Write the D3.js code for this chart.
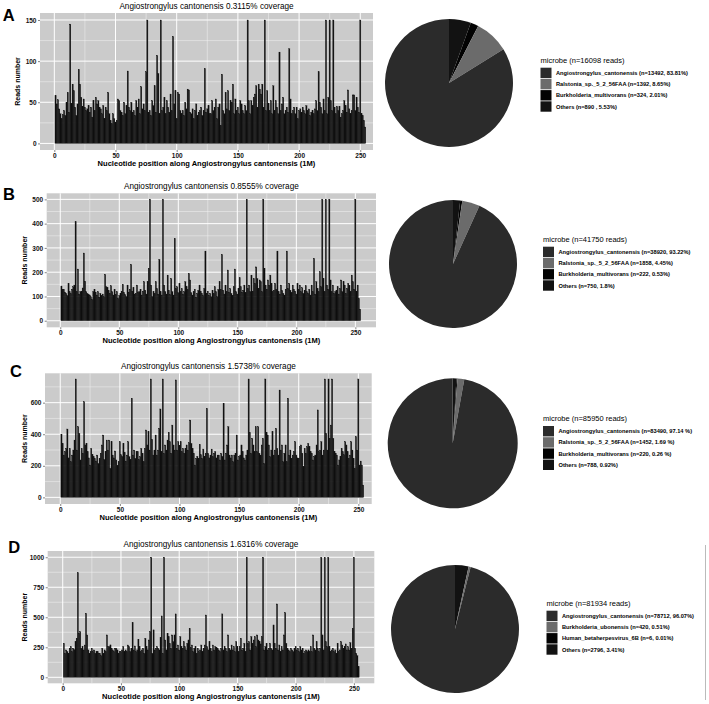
<!DOCTYPE html>
<html>
<head>
<meta charset="utf-8">
<script src="https://cdn.jsdelivr.net/npm/d3@7"></script>
<style>
  body { margin: 0; background: #fff; }
  svg { display: block; font-family: "Liberation Sans", Arial, sans-serif; }
</style>
</head>
<body>
<div id="chart"></div>
<script>
// reads per position (1..254)
const readsA = [
  58,48,53,42,36,30,35,40,34,50, 62,38,145,49,72,64,44,34,48,90,
  72,56,45,54,44,40,42,46,38,44, 32,52,40,56,48,52,44,42,36,46,
  30,44,40,62,36,28,24,36,30,26, 28,54,52,40,38,34,50,36,46,88,
  44,40,50,38,40,34,52,44,54,36, 69,42,48,40,87,150,38,40,34,52,
  46,70,38,107,85,36,150,40,44,56, 36,52,44,38,60,40,130,48,64,30,
  62,60,40,36,40,34,50,42,66,65, 38,36,42,30,40,48,34,38,40,44,
  34,40,91,38,42,46,36,36,52,40, 44,54,30,44,48,22,84,40,36,62,
  42,64,40,52,50,72,36,54,40,44, 36,52,48,40,36,46,40,150,52,36,
  52,46,56,60,70,44,72,66,60,72, 44,150,40,64,49,40,52,36,70,40,
  52,44,36,111,40,48,56,36,40,44, 38,115,54,36,40,44,36,44,30,40,
  42,38,44,40,36,46,40,42,34,38, 40,36,42,52,40,87,50,44,36,54,
  40,150,36,56,150,52,40,150,44,36, 45,40,45,32,36,40,52,46,38,65,
  42,36,40,59,59,40,56,44,38,150, 36,34,28,20
];
const readsB = [
  143,130,130,118,113,104,154,120,112,130, 140,147,408,120,213,110,120,122,135,279,
  163,120,113,108,106,99,88,120,130,118, 106,120,98,113,103,110,99,191,140,136,
  125,113,144,120,106,130,108,120,92,104, 113,122,150,117,108,100,147,118,130,232,
  122,136,110,113,147,118,120,130,106,122, 161,126,110,161,216,501,147,100,120,112,
  161,133,110,253,120,106,501,147,120,110, 188,126,108,174,120,106,339,133,140,115,
  154,120,133,110,120,161,140,128,195,168, 115,106,120,130,98,113,125,147,122,113,
  104,133,287,113,122,105,113,99,126,112, 140,120,100,129,161,130,273,126,110,147,
  120,209,118,133,113,105,140,213,120,110, 133,177,140,118,126,147,115,501,133,147,
  120,188,122,174,154,222,174,133,168,161, 120,501,216,147,130,168,147,188,154,120,
  126,154,130,287,120,110,147,125,113,106, 130,287,133,154,126,115,147,130,122,110,
  154,130,147,120,136,113,126,144,120,113, 130,106,147,120,257,110,161,133,120,202,
  140,501,174,120,501,147,130,501,168,120, 147,113,120,126,140,110,133,168,120,161,
  147,113,133,154,144,120,188,161,130,501, 122,147,92,48
];
const readsC = [
  400,342,268,290,310,433,250,310,226,268, 300,363,750,300,448,406,237,310,280,606,
  332,342,290,250,205,310,270,258,247,230, 268,215,247,280,332,395,240,290,363,300,
  363,184,353,268,250,294,237,200,226,353, 270,258,342,285,230,268,353,258,240,628,
  268,300,247,290,290,240,258,310,280,226, 310,427,332,416,300,750,368,268,300,395,
  268,300,437,560,290,750,279,332,300,363, 412,353,280,458,332,300,744,300,353,330,
  353,290,310,280,310,332,300,346,490,342, 310,280,205,247,260,247,336,270,247,306,
  260,279,564,279,250,268,306,258,280,290, 250,268,268,237,279,260,596,237,280,332,
  448,268,250,268,226,268,280,395,237,260, 268,332,290,250,237,268,300,750,412,279,
  374,332,290,448,290,448,280,268,332,374, 215,750,412,395,332,258,300,416,268,300,
  437,310,268,680,300,332,226,280,332,226, 628,268,300,247,268,290,353,268,250,247,
  321,332,280,194,310,280,321,342,321,290, 279,237,260,268,332,554,290,300,353,268,
  300,750,406,300,750,374,458,750,374,290, 280,268,205,237,260,310,290,270,353,332,
  290,247,268,353,300,247,184,385,300,750, 205,230,205,78
];
const readsD = [
  283,200,228,215,200,242,256,215,242,230, 297,325,872,367,381,242,256,228,269,533,
  353,228,200,214,242,214,228,200,214,214, 200,200,180,242,200,228,214,353,256,256,
  270,242,228,214,242,242,228,200,214,214, 228,256,214,228,214,269,256,214,242,456,
  228,261,214,228,317,256,214,228,242,200, 325,256,228,311,381,1000,200,395,228,242,
  256,242,228,331,511,200,1000,311,228,367, 339,283,242,353,297,353,528,242,269,228,
  339,256,242,297,256,228,283,311,408,250, 269,214,242,256,200,242,214,228,269,214,
  242,269,519,256,228,297,242,214,269,228, 256,250,242,228,214,242,528,228,256,242,
  214,353,242,228,269,228,256,214,297,256, 214,256,325,228,242,283,214,1000,283,297,
  228,339,283,311,339,256,353,311,297,278, 339,1000,228,256,283,228,242,283,242,228,
  436,283,242,611,228,269,214,256,228,353, 539,283,242,228,214,242,228,214,242,256,
  228,242,214,256,228,242,200,214,228,214, 228,214,256,214,353,242,228,297,242,214,
  242,1000,353,228,1000,297,256,1000,256,214, 228,242,214,228,200,283,214,228,297,269,
  242,256,278,228,256,228,289,242,408,1000, 242,200,180,89
];

const xTicks = [0, 50, 100, 150, 200, 250];
const yTicksA = [0, 50, 100, 150];
const yTicksB = [0, 100, 200, 300, 400, 500];
const yTicksC = [0, 200, 400, 600];
const yTicksD = [0, 250, 500, 750, 1000];

const letters = ["A", "B", "C", "D"];
const coverage = ["0.3115%", "0.8555%", "1.5738%", "1.6316%"];
const totalReads = [16098, 41750, 85950, 81934];

const countsA = [13492, 1392, 324, 890];
const countsB = [38920, 1858, 222, 750];
const countsC = [83490, 1452, 220, 788];
const countsD = [78712, 420, 6, 2796];

const labelsA = ["Angiostrongylus_cantonensis (n=13492, 83.81%)", "Ralstonia_sp._5_2_56FAA (n=1392, 8.65%)",
  "Burkholderia_multivorans (n=324, 2.01%)", "Others (n=890 , 5.53%)"];
const labelsB = ["Angiostrongylus_cantonensis (n=38920, 93.22%)", "Ralstonia_sp._5_2_56FAA (n=1858, 4.45%)",
  "Burkholderia_multivorans (n=222, 0.53%)", "Others (n=750, 1.8%)"];
const labelsC = ["Angiostrongylus_cantonensis (n=83490, 97.14 %)", "Ralstonia_sp._5_2_56FAA (n=1452, 1.69 %)",
  "Burkholderia_multivorans (n=220, 0.26 %)", "Others (n=788, 0.92%)"];
const labelsD = ["Angiostrongylus_cantonensis (n=78712, 96.07%)", "Burkholderia_ubonensis (n=420, 0.51%)",
  "Human_betaherpesvirus_6B (n=6, 0.01%)", "Others (n=2796, 3.41%)"];

const sliceColors = ["#2b2b2b", "#6b6b6b", "#030303", "#121212"];

// layout of each row (pixels), kept apart from the data
const layout = [
  { box: [40, 13, 373, 150], xDom: [-11.7, 260.4], yDom: [-8, 158.5], yTitleX: 20, letter: [2.7, 20.7],
    pie: [449, 83, 64], legend: [540.5, 67.7] },
  { box: [46.7, 193.3, 376, 327.3], xDom: [-11.5, 267.5], yDom: [-27, 525], yTitleX: 27, letter: [3, 200],
    pie: [453, 264, 64], legend: [543, 246.7] },
  { box: [45, 373.3, 371.7, 504], xDom: [-12.8, 261.2], yDom: [-42, 786], yTitleX: 27, letter: [10, 377.3],
    pie: [452.7, 443.3, 65], legend: [543, 426] },
  { box: [47.7, 551, 374.3, 683.3], xDom: [-12.9, 267.5], yDom: [-50, 1052], yTitleX: 26.5, letter: [8.3, 553.3],
    pie: [455, 629, 64], legend: [546.5, 610.7] }
];

const panels = [
  { reads: readsA, yTicks: yTicksA, counts: countsA, labels: labelsA },
  { reads: readsB, yTicks: yTicksB, counts: countsB, labels: labelsB },
  { reads: readsC, yTicks: yTicksC, counts: countsC, labels: labelsC },
  { reads: readsD, yTicks: yTicksD, counts: countsD, labels: labelsD }
];

const svg = d3.select("#chart").append("svg")
  .attr("width", 709)
  .attr("height", 704);

function midpoints(ticks) {
  const out = [];
  for (let i = 0; i < ticks.length - 1; i++) out.push((ticks[i] + ticks[i + 1]) / 2);
  out.push(ticks[ticks.length - 1] + (ticks[1] - ticks[0]) / 2);
  return out;
}

panels.forEach((p, i) => {
  const L = layout[i];
  const [x0, y0, x1, y1] = L.box;

  const x = d3.scaleLinear().domain(L.xDom).range([x0, x1]);
  const y = d3.scaleLinear().domain(L.yDom).range([y1, y0]);

  const g = svg.append("g");

  // panel background
  g.append("rect")
    .attr("x", x0).attr("y", y0)
    .attr("width", x1 - x0).attr("height", y1 - y0)
    .attr("fill", "#cbcbcb");

  // minor grid
  const xMinor = midpoints(xTicks).filter(v => v > L.xDom[0] && v < L.xDom[1]);
  const yMinor = midpoints(p.yTicks).filter(v => v > L.yDom[0] && v < L.yDom[1]);
  g.selectAll(".vminor").data(xMinor).join("line")
    .attr("x1", d => x(d)).attr("x2", d => x(d))
    .attr("y1", y0).attr("y2", y1)
    .attr("stroke", "#f2f2f2").attr("stroke-width", 0.5);
  g.selectAll(".hminor").data(yMinor).join("line")
    .attr("x1", x0).attr("x2", x1)
    .attr("y1", d => y(d)).attr("y2", d => y(d))
    .attr("stroke", "#f2f2f2").attr("stroke-width", 0.5);

  // major grid
  g.selectAll(".vmajor").data(xTicks).join("line")
    .attr("x1", d => x(d)).attr("x2", d => x(d))
    .attr("y1", y0).attr("y2", y1)
    .attr("stroke", "#fff").attr("stroke-width", 1);
  g.selectAll(".hmajor").data(p.yTicks).join("line")
    .attr("x1", x0).attr("x2", x1)
    .attr("y1", d => y(d)).attr("y2", d => y(d))
    .attr("stroke", "#fff").attr("stroke-width", 1);

  // bars (thin outline closes the anti-aliased seams between neighbours)
  const bw = x(1) - x(0);
  g.selectAll(".bar").data(p.reads).join("rect")
    .attr("x", (d, k) => x(k + 1 - 0.5))
    .attr("width", bw)
    .attr("y", d => y(d))
    .attr("height", d => y(0) - y(d))
    .attr("fill", "#101010")
    .attr("stroke", "#101010")
    .attr("stroke-width", 0.3);

  // axes
  const xAxis = g.append("g")
    .attr("transform", `translate(0,${y1})`)
    .call(d3.axisBottom(x).tickValues(xTicks).tickSize(2).tickPadding(1.5).tickFormat(d3.format("d")));
  const yAxis = g.append("g")
    .attr("transform", `translate(${x0},0)`)
    .call(d3.axisLeft(y).tickValues(p.yTicks).tickSize(2).tickPadding(1.5).tickFormat(d3.format("d")));
  [xAxis, yAxis].forEach(ax => {
    ax.select(".domain").remove();
    ax.selectAll(".tick line").attr("stroke", "#333").attr("stroke-width", 0.6);
    ax.selectAll(".tick text")
      .attr("fill", "#111")
      .attr("font-size", 6.5)
      .attr("font-weight", "bold")
      .attr("font-family", "Liberation Sans, Arial, sans-serif");
  });

  // titles
  g.append("text")
    .attr("x", (x0 + x1) / 2).attr("y", y0 - 4.3)
    .attr("text-anchor", "middle")
    .attr("font-size", 8.2)
    .attr("fill", "#000")
    .text(`Angiostrongylus cantonensis ${coverage[i]} coverage`);

  g.append("text")
    .attr("x", (x0 + x1) / 2).attr("y", y1 + 16)
    .attr("text-anchor", "middle")
    .attr("font-size", 7.55)
    .attr("font-weight", "bold")
    .attr("fill", "#000")
    .text("Nucleotide position along Angiostrongylus cantonensis (1M)");

  g.append("text")
    .attr("transform", `translate(${L.yTitleX},${(y0 + y1) / 2}) rotate(-90)`)
    .attr("text-anchor", "middle")
    .attr("font-size", 7)
    .attr("font-weight", "bold")
    .attr("fill", "#000")
    .text("Reads number");

  g.append("text")
    .attr("x", L.letter[0]).attr("y", L.letter[1])
    .attr("font-size", 16.5)
    .attr("font-weight", "bold")
    .attr("fill", "#000")
    .text(letters[i]);

  // pie: clockwise from 12 o'clock, last legend entry first (ggplot stacking)
  const [cx, cy, r] = L.pie;
  const order = [3, 2, 1, 0];
  const arcs = d3.pie().sort(null).value(k => p.counts[k])(order);
  const arc = d3.arc().innerRadius(0).outerRadius(r);
  g.append("g")
    .attr("transform", `translate(${cx},${cy})`)
    .selectAll("path").data(arcs).join("path")
    .attr("d", arc)
    .attr("fill", d => sliceColors[d.data]);

  // legend
  const [lx, ly] = L.legend;
  const step = 11.2;
  g.append("text")
    .attr("x", lx).attr("y", ly - 5)
    .attr("font-size", 7.5)
    .attr("fill", "#000")
    .text(`microbe (n=${totalReads[i]} reads)`);
  const items = g.selectAll(".leg").data(p.labels).join("g")
    .attr("transform", (d, k) => `translate(${lx},${ly + k * step})`);
  items.append("rect")
    .attr("width", 11).attr("height", 10.4)
    .attr("fill", (d, k) => sliceColors[k]);
  items.append("text")
    .attr("x", 15.5).attr("y", 7.3)
    .attr("font-size", 5.7)
    .attr("font-weight", "bold")
    .attr("fill", "#000")
    .text(d => d);
});

// thin rule at the right edge of the last row
svg.append("line")
  .attr("x1", 705.5).attr("x2", 705.5)
  .attr("y1", 545).attr("y2", 700)
  .attr("stroke", "#bbb").attr("stroke-width", 1);
</script>
</body>
</html>
